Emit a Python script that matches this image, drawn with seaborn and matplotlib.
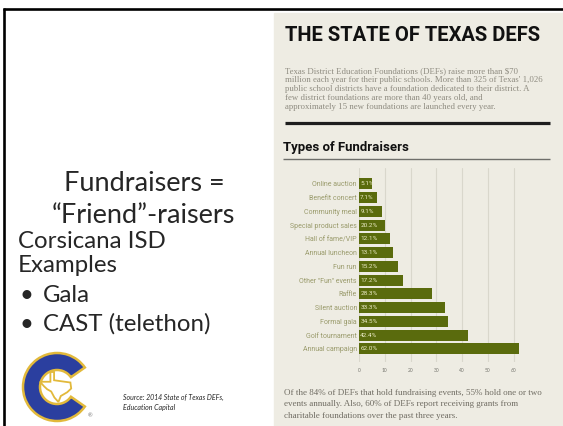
"""
Slide: Fundraisers = "Friend"-raisers, with the Texas DEFs fundraiser bar chart
"""

import pandas as pd
import matplotlib.pyplot as plt
import seaborn as sns
from matplotlib.patches import Rectangle, Wedge, Polygon

sns.set_style('white')
plt.rcParams['font.family'] = ['Lato', 'DejaVu Sans']

# chart data
categories = ['Online auction', 'Benefit concert', 'Community meal',
              'Special product sales', 'Hall of fame/VIP', 'Annual luncheon',
              'Fun run', 'Other "Fun" events', 'Raffle', 'Silent auction',
              'Formal gala', 'Golf tournament', 'Annual campaign']
values = [5.1, 7.1, 9.1, 10.2, 12.1, 13.1, 15.2, 17.2, 28.3, 33.3, 34.5, 42.4, 62.0]
value_labels = ['5.1%', '7.1%', '9.1%', '20.2%', '12.1%', '13.1%', '15.2%',
                '17.2%', '28.3%', '33.3%', '34.5%', '42.4%', '62.0%']
x_ticks = [0, 10, 20, 30, 40, 50, 60]

intro_lines = [
    "Texas District Education Foundations (DEFs) raise more than \\$70",
    "million each year for their public schools. More than 325 of Texas' 1,026",
    "public school districts have a foundation dedicated to their district. A",
    "few district foundations are more than 40 years old, and",
    "approximately 15 new foundations are launched every year.",
]
outro_lines = [
    "Of the 84% of DEFs that hold fundraising events, 55% hold one or two",
    "events annually. Also, 60% of DEFs report receiving grants from",
    "charitable foundations over the past three years.",
]

BAR = '#5a6b0d'
PANEL = '#eeece3'
COND = ['Roboto', 'DejaVu Sans']
SERIF = ['Liberation Serif', 'DejaVu Serif']

W, H = 563, 426
fig = plt.figure(figsize=(W / 100, H / 100), dpi=100)
fig.patch.set_facecolor('white')

# background layer in pixel coordinates
bg = fig.add_axes([0, 0, 1, 1])
bg.set_xlim(0, W)
bg.set_ylim(H, 0)
bg.axis('off')

bg.add_patch(Rectangle((274, 13), W - 274, H - 13, color=PANEL, zorder=0))
bg.plot([3, W], [9, 9], color='black', lw=1.9, solid_capstyle='butt')
bg.plot([4, 4], [8, H], color='black', lw=1.9, solid_capstyle='butt')

# left side text
bg.text(144, 191, 'Fundraisers =', fontsize=19.5, ha='center', va='baseline')
bg.text(143, 223, '\u201cFriend\u201d-raisers', fontsize=19.5, ha='center', va='baseline')
bg.text(18, 248, 'Corsicana ISD', fontsize=17.3, va='baseline')
bg.text(18, 272, 'Examples', fontsize=17.3, va='baseline')
bg.text(20, 302, '\u2022', fontsize=17.3, va='baseline')
bg.text(43, 302, 'Gala', fontsize=17.3, va='baseline')
bg.text(20, 331, '\u2022', fontsize=17.3, va='baseline')
bg.text(43, 331, 'CAST (telethon)', fontsize=17.3, va='baseline')
bg.text(123, 400, 'Source: 2014 State of Texas DEFs,', fontsize=5, style='italic', va='baseline')
bg.text(123, 410, 'Education Capital', fontsize=5, style='italic', va='baseline')

# logo
cx, cy = 57, 387
bg.add_patch(Wedge((cx, cy), 34, 35, 325, width=17, facecolor='#2b3f9f',
                   edgecolor='#e2b93b', lw=1.8, zorder=3))
texas = [(-0.35, 1.0), (-0.12, 1.0), (-0.12, 0.45), (0.55, 0.35), (0.9, 0.3),
         (0.95, -0.1), (0.7, -0.35), (0.3, -0.6), (0.15, -1.0), (-0.1, -0.7),
         (-0.3, -0.3), (-0.55, -0.15), (-0.75, 0.05), (-1.0, 0.35), (-0.35, 0.35)]
bg.add_patch(Polygon([(cx - 1 + x * 16, cy - y * 15) for x, y in texas],
                     facecolor='white', edgecolor='#e2b93b', lw=1.3, zorder=4))
bg.text(90, 416, '\u00ae', fontsize=4, color='#777777', ha='center', va='center')

# infographic texts
bg.text(285, 41, 'THE STATE OF TEXAS DEFS', family=COND, fontweight='bold',
        fontsize=14.5, color='#111111', va='baseline')
for i, line in enumerate(intro_lines):
    bg.text(285, 71 + 9 * i, line, family=SERIF, fontsize=6.3, color='#8e8b80', va='center')
bg.plot([285, 550], [123, 123], color='#1e1e1e', lw=2.3, solid_capstyle='butt')
bg.text(283, 151, 'Types of Fundraisers', family=COND, fontweight='bold',
        fontsize=9.5, color='#111111', va='baseline')
bg.plot([283, 550], [159, 159], color='#6e6e6a', lw=1.0, solid_capstyle='butt')
for i, line in enumerate(outro_lines):
    bg.text(284, 393 + 11.5 * i, line, family=SERIF, fontsize=6.5, color='#6f6c62', va='center')

# bar chart
df = pd.DataFrame({'category': categories, 'value': values})
ax = fig.add_axes([359 / W, 1 - 362 / H, 63 * 2.58 / W, 194 / H])
ax.set_facecolor('none')
sns.barplot(data=df, x='value', y='category', color=BAR, saturation=1,
            width=0.8, edgecolor='none', ax=ax, zorder=2)
ax.set_xlim(0, 63)
ax.set_ylim(12.95, -1.16)
ax.set_xticks(x_ticks)
ax.set_xticklabels([str(t) for t in x_ticks])
ax.xaxis.grid(True, color='#d9d7cc', lw=0.8, zorder=0)
ax.set_axisbelow(True)
for s in ax.spines.values():
    s.set_visible(False)
ax.tick_params(axis='x', length=0, pad=4, labelsize=3.5, labelcolor='#777770')
ax.tick_params(axis='y', length=0, pad=1.5, labelsize=5, labelcolor='#9a9b6c')
for lab in ax.get_yticklabels():
    lab.set_family(COND)
ax.set_xlabel('')
ax.set_ylabel('')

for i, lab in enumerate(value_labels):
    ax.text(0.5, i, lab, family=COND, fontsize=4.6,
            color='#ecebc6', va='center', ha='left', zorder=3)

fig.savefig('out.png', dpi=100)
